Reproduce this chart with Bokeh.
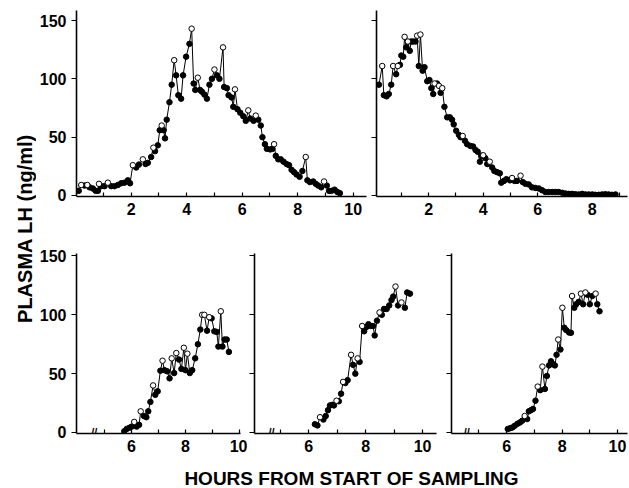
import math
from bokeh.plotting import figure
from bokeh.layouts import row, column
from bokeh.models import Range1d, FixedTicker, Label
from bokeh.embed import file_html
from bokeh.resources import INLINE
from bokeh.core.properties import value

# ---------------- data (hours from start, LH ng/ml, open-circle flag) ----------------
a_hours = [0.11, 0.2, 0.32, 0.42, 0.5, 0.62, 0.72, 0.8, 0.84, 0.92, 1.04, 1.16, 1.28, 1.4, 1.52, 1.64, 1.76, 1.88, 1.96,
           2.06, 2.18, 2.28, 2.42, 2.52, 2.6, 2.72, 2.8, 2.86, 2.96, 3.03, 3.1, 3.17, 3.22, 3.28, 3.38, 3.46, 3.55, 3.62,
           3.7, 3.8, 3.87, 3.98, 4.1, 4.18, 4.25, 4.31, 4.4, 4.48, 4.55, 4.64, 4.73, 4.82, 4.91, 5.0, 5.09, 5.18, 5.31,
           5.35, 5.45, 5.51, 5.62, 5.68, 5.74, 5.83, 5.93, 6.04, 6.13, 6.22, 6.29, 6.41, 6.49, 6.58, 6.67, 6.73, 6.82,
           6.89, 7.01, 7.09, 7.15, 7.21, 7.3, 7.39, 7.49, 7.6, 7.69, 7.78, 7.87, 7.96, 8.07, 8.17, 8.29, 8.35, 8.44,
           8.56, 8.65, 8.74, 8.85, 8.95, 9.05, 9.13, 9.22, 9.33, 9.43, 9.52]
a_lh = [4, 9, 8.5, 9, 7, 6, 4, 4, 10, 8, 8, 11, 8, 8, 9, 10.5, 11, 13, 10.5,
        26, 24, 26.5, 31, 27, 28, 33, 41, 38, 43, 56, 60, 56, 49, 65, 80, 95, 116, 103,
        86, 83, 103, 119, 130, 143, 96, 90.5, 101, 90.5, 89, 86.5, 83, 95, 100, 108, 103, 100, 127,
        93, 92, 86, 84, 76, 91, 74, 71, 68, 64, 73, 66, 64, 68.5, 65, 60, 50, 44,
        40, 39.5, 40, 44, 34, 31, 31, 29, 27, 26, 22, 20, 18, 16, 21, 33, 13, 11.5,
        12, 10, 8.5, 7, 12, 8.5, 4, 4, 5, 3, 2]
a_open = [0, 1, 0, 1, 0, 0, 0, 0, 1, 0, 0, 1, 0, 0, 0, 0, 0, 0, 0,
          1, 0, 0, 1, 0, 0, 0, 1, 0, 0, 0, 1, 0, 0, 0, 0, 0, 1, 0,
          0, 0, 0, 0, 0, 1, 0, 0, 1, 0, 0, 0, 0, 0, 0, 1, 0, 0, 1,
          0, 0, 0, 0, 0, 1, 0, 0, 0, 0, 1, 0, 0, 1, 0, 0, 0, 0,
          0, 0, 0, 1, 0, 0, 0, 0, 0, 0, 0, 0, 0, 0, 0, 1, 0, 0,
          0, 0, 0, 0, 1, 0, 0, 0, 0, 0, 0]

b_hours = [0.18, 0.3, 0.36, 0.46, 0.54, 0.63, 0.7, 0.81, 0.87, 0.95, 1.0, 1.07, 1.12, 1.18, 1.24, 1.31, 1.36, 1.43,
           1.52, 1.58, 1.64, 1.7, 1.78, 1.85, 1.95, 2.03, 2.1, 2.17, 2.22, 2.31, 2.38, 2.44, 2.5, 2.58, 2.68, 2.78,
           2.86, 2.92, 3.01, 3.11, 3.17, 3.25, 3.33, 3.41, 3.53, 3.63, 3.72, 3.8, 3.88, 3.94, 4.0, 4.08, 4.15, 4.24,
           4.33, 4.41, 4.51, 4.61, 4.66, 4.76, 4.85, 4.98, 5.06, 5.15, 5.24, 5.37, 5.45, 5.55, 5.67, 5.79, 5.91,
           6.04, 6.16, 6.28, 6.4, 6.53, 6.65, 6.77, 6.9, 7.02, 7.14, 7.26, 7.38, 7.5, 7.63, 7.75, 7.87, 8.0, 8.11,
           8.24, 8.36, 8.48, 8.6, 8.72, 8.85]
b_lh = [95, 111, 86, 85, 87, 95, 111, 104, 111, 112, 120, 119, 136, 127, 132, 124, 132, 132,
        132, 137, 111, 138, 107, 110, 98, 99, 92, 87, 96, 96, 94, 88, 92, 76, 67, 67,
        65, 61, 55.5, 52, 50, 51, 47, 44, 42.5, 42, 39, 37.5, 29, 34, 34.5, 32, 27, 29,
        24, 21, 20, 19, 11, 12.5, 14, 13, 15, 12.5, 12.5, 17, 11.5, 10, 9.5, 7, 6.5,
        6, 4.5, 3, 3, 3, 3, 3, 2.3, 1.7, 1.4, 1.4, 1.1, 0.9, 1.4, 0.9, 0.9, 0.9, 0.6,
        0.6, 0.9, 1.1, 0.9, 0.6, 0.9]
b_open = [0, 1, 0, 0, 0, 0, 1, 0, 1, 0, 0, 0, 1, 0, 1, 0, 0, 0,
          0, 1, 0, 1, 0, 0, 0, 0, 0, 0, 1, 0, 1, 0, 1, 0, 0, 0,
          0, 0, 0, 0, 0, 1, 0, 0, 0, 0, 0, 0, 0, 0, 1, 0, 0, 1,
          0, 0, 0, 0, 0, 0, 0, 0, 1, 0, 0, 1, 0, 0, 0, 0, 0,
          0, 0, 0, 0, 0, 0, 0, 0, 0, 0, 0, 0, 0, 0, 0, 0, 0, 0,
          0, 0, 0, 0, 0, 0]

c_hours = [5.73, 5.82, 5.92, 6.01, 6.10, 6.19, 6.28, 6.34, 6.46, 6.55, 6.62, 6.70, 6.80, 6.88, 6.97, 7.07, 7.15,
           7.22, 7.32, 7.41, 7.49, 7.58, 7.66, 7.76, 7.85, 7.94, 8.00, 8.07, 8.16, 8.25, 8.36, 8.46, 8.55, 8.62,
           8.70, 8.80, 8.88, 8.97, 9.07, 9.16, 9.22, 9.31, 9.37, 9.45, 9.53, 9.61]
c_lh = [1, 3, 4, 5, 9, 5, 6.5, 18, 14, 13, 18, 26, 40, 32, 35, 52.5, 61,
        53, 52, 46, 63, 50.5, 67.5, 62, 54, 72, 53, 67, 50.5, 53, 63, 75, 87.5, 100,
        100, 86.5, 98, 97, 86, 85.5, 73, 103, 73, 79, 79, 68.5]
c_open = [0, 0, 0, 0, 1, 0, 0, 1, 0, 0, 0, 0, 1, 0, 0, 0, 1,
          0, 0, 0, 1, 0, 1, 0, 0, 1, 0, 1, 0, 0, 0, 0, 0, 1,
          1, 0, 1, 0, 0, 0, 0, 1, 0, 0, 0, 0]

d_hours = [6.22, 6.31, 6.4, 6.52, 6.6, 6.68, 6.75, 6.83, 6.89, 6.98, 7.06, 7.14, 7.21, 7.29, 7.37, 7.49, 7.56,
           7.64, 7.72, 7.79, 7.88, 7.95, 8.02, 8.1, 8.18, 8.26, 8.32, 8.4, 8.49, 8.57, 8.65, 8.74, 8.83, 8.91,
           8.97, 9.05, 9.14, 9.26, 9.38, 9.46, 9.56]
d_lh = [7, 6, 13, 11, 14, 19, 23, 23.5, 23, 27, 26.5, 33, 43, 42, 44.5, 66, 57.5,
        50, 63, 60, 90.5, 86, 89.5, 92, 90.5, 90.5, 82.5, 95, 102, 100, 105, 105, 108, 112.5,
        115.5, 124, 108, 110.5, 106, 119, 118]
d_open = [0, 0, 1, 0, 0, 0, 0, 0, 0, 1, 0, 0, 1, 0, 0, 1, 0,
          0, 1, 0, 1, 0, 0, 0, 0, 0, 0, 0, 1, 0, 0, 0, 0, 0,
          0, 1, 0, 1, 0, 0, 0]

e_hours = [6.04, 6.13, 6.21, 6.29, 6.39, 6.48, 6.56, 6.65, 6.74, 6.8, 6.88, 6.95, 7.04, 7.12, 7.21, 7.29, 7.38,
           7.45, 7.53, 7.6, 7.68, 7.74, 7.8, 7.86, 7.94, 8.01, 8.08, 8.15, 8.25, 8.32, 8.36, 8.44, 8.51, 8.6,
           8.68, 8.76, 8.84, 8.92, 9.0, 9.09, 9.21, 9.27, 9.35]
e_lh = [3, 3.7, 4.3, 5.7, 7.4, 8.5, 10, 14, 11.4, 18, 19, 20, 27, 39, 36, 56, 37,
        48, 57, 60.5, 58, 57, 66, 79, 70.5, 106, 89, 87, 85, 84.7, 116, 106, 109, 111,
        118, 109, 119, 117, 109, 116, 118, 109, 103]
e_open = [0, 0, 0, 0, 0, 0, 0, 1, 0, 0, 0, 0, 0, 1, 0, 1, 0,
          0, 0, 0, 0, 0, 0, 1, 0, 1, 0, 0, 0, 0, 1, 0, 0, 0,
          1, 0, 1, 0, 0, 0, 1, 0, 0]

y_ticks = [0, 50, 100, 150]
top_major = [2, 4, 6, 8, 10]
top_minor = [1, 3, 5, 7, 9]
bot_major = [6, 8, 10]
bot_minor = [5, 7, 9]
break_at = [4.62, 4.7, 4.56]

FONT = "Liberation Sans"


def panel(w, h, xr, yr, bl, br, bt, bb, major, minor, show_ylabels, hours, lh, opn, brk=None):
    p = figure(width=w, height=h, x_range=Range1d(*xr), y_range=Range1d(*yr),
               output_backend="svg", toolbar_location=None,
               min_border_left=bl, min_border_right=br, min_border_top=bt, min_border_bottom=bb)
    p.grid.visible = False
    p.outline_line_color = None
    p.background_fill_color = "white"
    p.border_fill_color = "white"
    for ax in (p.xaxis[0], p.yaxis[0]):
        ax.axis_line_color = "black"
        ax.axis_line_width = 1.6
        ax.major_tick_line_color = "black"
        ax.minor_tick_line_color = "black"
        ax.major_tick_line_width = 1.2
        ax.minor_tick_line_width = 1.2
        ax.major_label_text_font = FONT
        ax.major_label_text_font_style = "bold"
        ax.major_label_text_font_size = "16px"
        ax.major_label_text_color = "black"
    xa = p.xaxis[0]
    xa.ticker = FixedTicker(ticks=major, minor_ticks=minor)
    xa.major_tick_in = 4
    xa.major_tick_out = 0
    xa.minor_tick_in = 4
    xa.minor_tick_out = 0
    xa.major_label_standoff = 6
    ya = p.yaxis[0]
    ya.ticker = FixedTicker(ticks=y_ticks)
    ya.major_tick_in = 0
    ya.major_tick_out = 5
    ya.minor_tick_in = 0
    ya.minor_tick_out = 0
    ya.major_label_standoff = 5
    if not show_ylabels:
        ya.major_label_overrides = {t: "" for t in y_ticks}
        ya.major_label_standoff = 0

    p.line(hours, lh, line_color="black", line_width=1)
    fx = [x for x, o in zip(hours, opn) if not o]
    fy = [y for y, o in zip(lh, opn) if not o]
    ox = [x for x, o in zip(hours, opn) if o]
    oy = [y for y, o in zip(lh, opn) if o]
    p.scatter(fx, fy, size=5.5, marker="circle", fill_color="black", line_color="black", line_width=1)
    p.scatter(ox, oy, size=5.5, marker="circle", fill_color="white", line_color="black", line_width=1)
    if brk is not None:
        p.text(x=[brk], y=[0], text=["//"], text_align="center", text_baseline="middle",
               text_font=value(FONT), text_font_size="11px", text_font_style="bold", text_color="black")
    return p


TOP_Y = (-0.86, 158.6)
BOT_Y = (-0.85, 152.1)

pa = panel(334, 228, (0.03, 10.48), TOP_Y, 39, 4, 10, 32, top_major, top_minor, True, a_hours, a_lh, a_open)
pb = panel(259, 228, (0.09, 9.29), TOP_Y, 6, 2, 10, 32, top_major, top_minor, False, b_hours, b_lh, b_open)
pc = panel(211, 232, (3.96, 10.04), BOT_Y, 37, 7, 25, 27, bot_major, bot_minor, True, c_hours, c_lh, c_open, break_at[0])
pd = panel(197, 232, (4.1, 10.49), BOT_Y, 7, 8, 25, 27, bot_major, bot_minor, False, d_hours, d_lh, d_open, break_at[1])
pe = panel(185, 232, (4.01, 10.36), BOT_Y, 7, 2, 25, 27, bot_major, bot_minor, False, e_hours, e_lh, e_open, break_at[2])

# rotated y-axis title
yl = figure(width=36, height=460, x_range=Range1d(0, 36), y_range=Range1d(0, 460),
            x_axis_location=None, y_axis_location=None, output_backend="svg", toolbar_location=None,
            min_border_left=0, min_border_right=0, min_border_top=0, min_border_bottom=0)
yl.grid.visible = False
yl.outline_line_color = None
yl.add_layout(Label(x=24, y=232, text="PLASMA LH (ng/ml)", angle=math.pi / 2,
                    text_align="center", text_baseline="middle", text_font=FONT,
                    text_font_size="20px", text_font_style="bold", text_color="black"))

# x-axis title
xl = figure(width=629, height=28, x_range=Range1d(0, 629), y_range=Range1d(0, 28),
            x_axis_location=None, y_axis_location=None, output_backend="svg", toolbar_location=None,
            min_border_left=0, min_border_right=0, min_border_top=0, min_border_bottom=0)
xl.grid.visible = False
xl.outline_line_color = None
xl.add_layout(Label(x=351, y=10.5, text="HOURS FROM START OF SAMPLING",
                    text_align="center", text_baseline="middle", text_font=FONT,
                    text_font_size="19px", text_font_style="bold", text_color="black"))

layout = column(row(yl, column(row(pa, pb), row(pc, pd, pe))), xl)

open("out.html", "w").write(file_html(layout, INLINE))
